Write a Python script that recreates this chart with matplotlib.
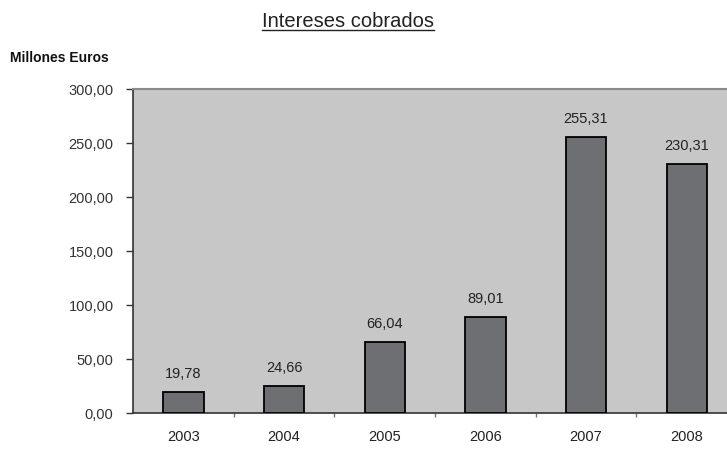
import matplotlib.pyplot as plt
from matplotlib.lines import Line2D

years = ['2003', '2004', '2005', '2006', '2007', '2008']
values = [19.78, 24.66, 66.04, 89.01, 255.31, 230.31]
value_labels = ['19,78', '24,66', '66,04', '89,01', '255,31', '230,31']
y_ticks = [0, 50, 100, 150, 200, 250, 300]

plt.rcParams['font.family'] = ['Liberation Sans', 'DejaVu Sans']

fig = plt.figure(figsize=(7.27, 4.5), dpi=100)
ax = fig.add_axes([0.183, 0.082, 0.817, 0.72])
ax.set_facecolor('#c7c7c7')

x = list(range(len(years)))
ax.bar(x, values, width=0.4, color='#6e6f73', edgecolor='black', linewidth=1.3, zorder=3)

for xi, v, lab in zip(x, values, value_labels):
    ax.annotate(lab, (xi, v), xytext=(0, 8), textcoords='offset points',
                ha='center', va='bottom', fontsize=10.5, color='#222222')

ax.set_xlim(-0.5, 5.4)
ax.set_ylim(0, 300)
ax.set_yticks(y_ticks)
ax.set_yticklabels([('%.2f' % t).replace('.', ',') for t in y_ticks])
ax.tick_params(axis='y', labelsize=10.5, length=5, width=1, colors='#333333', pad=9)

# category labels, ticks sit between categories
ax.set_xticks([i + 0.5 for i in x[:-1]])
ax.set_xticklabels([])
ax.tick_params(axis='x', length=3, width=1, color='#777777')
ax.set_xticks(x, minor=True)
ax.set_xticklabels(years, minor=True, fontsize=10.5, color='#222222')
ax.tick_params(axis='x', which='minor', length=0, pad=12)

ax.spines['left'].set_color('#333333')
ax.spines['bottom'].set_color('#333333')
ax.spines['left'].set_linewidth(1.2)
ax.spines['bottom'].set_linewidth(1.2)
ax.spines['top'].set_color('#8a8a8a')
ax.spines['top'].set_linewidth(1.5)
ax.spines['right'].set_visible(False)

title = fig.text(0.478, 0.953, 'Intereses cobrados', ha='center', va='center',
                 fontsize=14.5, color='#222222')
fig.text(0.014, 0.87, 'Millones Euros', ha='left', va='center',
         fontsize=10, fontweight='bold', color='#111111')

# underline the title
fig.canvas.draw()
bb = title.get_window_extent().transformed(fig.transFigure.inverted())
fig.add_artist(Line2D([bb.x0, bb.x1], [bb.y0 + 0.002, bb.y0 + 0.002],
                      transform=fig.transFigure, color='#222222', linewidth=1))

fig.savefig('out.png', dpi=100)
